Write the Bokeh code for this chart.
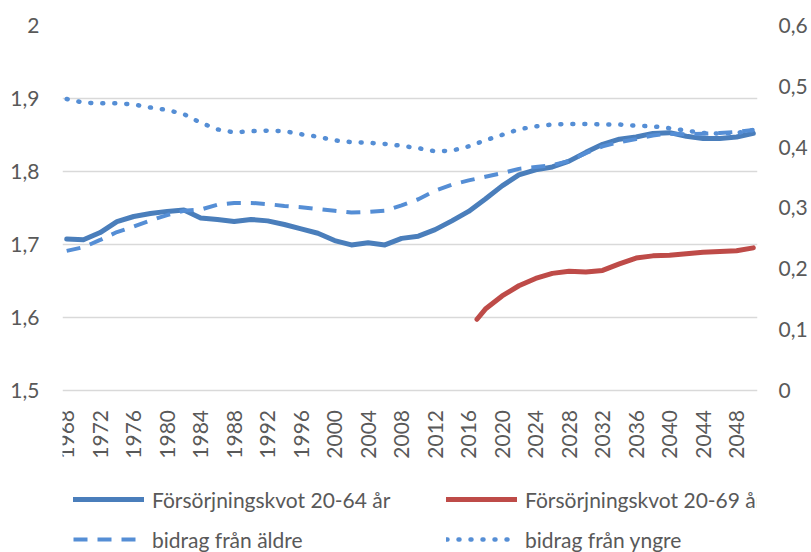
import math
from bokeh.plotting import figure
from bokeh.models import (Range1d, LinearAxis, FixedTicker, Legend, LegendItem,
                          CustomJSTickFormatter)
from bokeh.embed import file_html
from bokeh.resources import INLINE

# ---- data ----
years = list(range(1968, 2051, 2))
kvot_20_64 = [1.707, 1.706, 1.716, 1.731, 1.738, 1.742, 1.745, 1.747, 1.736, 1.734,
              1.731, 1.734, 1.732, 1.727, 1.721, 1.715, 1.705, 1.699, 1.702, 1.699,
              1.708, 1.711, 1.720, 1.732, 1.745, 1.762, 1.780, 1.795, 1.802, 1.806,
              1.814, 1.826, 1.837, 1.844, 1.847, 1.852, 1.853, 1.848, 1.845, 1.845,
              1.847, 1.852]
bidrag_aldre = [0.229, 0.235, 0.247, 0.260, 0.269, 0.279, 0.288, 0.295, 0.297, 0.305,
                0.308, 0.308, 0.306, 0.303, 0.301, 0.298, 0.295, 0.292, 0.293, 0.295,
                0.304, 0.314, 0.328, 0.338, 0.345, 0.351, 0.357, 0.364, 0.367, 0.370,
                0.377, 0.390, 0.401, 0.408, 0.413, 0.419, 0.422, 0.421, 0.422, 0.423,
                0.425, 0.428]
bidrag_yngre = [0.479, 0.473, 0.472, 0.472, 0.470, 0.465, 0.461, 0.454, 0.440, 0.429,
                0.424, 0.426, 0.427, 0.426, 0.421, 0.417, 0.411, 0.408, 0.407, 0.405,
                0.402, 0.398, 0.393, 0.394, 0.401, 0.411, 0.420, 0.429, 0.434, 0.437,
                0.438, 0.438, 0.437, 0.437, 0.435, 0.434, 0.431, 0.427, 0.423, 0.422,
                0.423, 0.428]
years_69 = [2017] + list(range(2018, 2051, 2))
kvot_20_69 = [1.597, 1.611, 1.629, 1.643, 1.653, 1.660, 1.663, 1.662, 1.664, 1.673,
              1.681, 1.684, 1.685, 1.687, 1.689, 1.690, 1.691, 1.695]
x_ticks = list(range(1968, 2049, 4))
left_ticks = [1.5, 1.6, 1.7, 1.8, 1.9, 2.0]
right_ticks = [0.0, 0.1, 0.2, 0.3, 0.4, 0.5, 0.6]
labels = ["Försörjningskvot 20-64 år", "Försörjningskvot 20-69 år",
          "bidrag från äldre", "bidrag från yngre"]

FONT = "Lato"
TXT = "#595959"
FS = "21px"

# The frame reaches the bottom of the page so the legend can sit inside it;
# the extra room below 1,5 / 0 is left for the year labels and the legend.
left_lo = 1.5 - 162.5 / 729.0
right_lo = -162.5 / 607.5

p = figure(width=811, height=552, output_backend="svg", toolbar_location=None,
           x_range=Range1d(1967.5, 2050.5), y_range=Range1d(left_lo, 2.0),
           min_border_left=62, min_border_right=54, min_border_top=25,
           min_border_bottom=0, y_axis_location=None, x_axis_location=None)
p.extra_y_ranges = {"right": Range1d(right_lo, 0.6)}
p.outline_line_color = None
p.background_fill_color = "white"
p.border_fill_color = "white"

fmt = CustomJSTickFormatter(code="var s = (Math.round(tick*10)/10).toString(); return s.replace('.', ',');")

def style_axis(ax):
    ax.axis_line_color = None
    ax.major_tick_line_color = None
    ax.minor_tick_line_color = None
    ax.major_tick_out = 0
    ax.major_tick_in = 0
    ax.minor_tick_out = 0
    ax.minor_tick_in = 0
    ax.major_label_text_font = FONT
    ax.major_label_text_font_size = FS
    ax.major_label_text_color = TXT

yl = LinearAxis(ticker=FixedTicker(ticks=left_ticks), formatter=fmt)
style_axis(yl)
yl.major_label_standoff = 23
p.add_layout(yl, "left")

yr = LinearAxis(y_range_name="right", ticker=FixedTicker(ticks=right_ticks), formatter=fmt)
style_axis(yr)
yr.major_label_standoff = 21
p.add_layout(yr, "right")

xa = LinearAxis(ticker=FixedTicker(ticks=x_ticks), fixed_location=1.5)
style_axis(xa)
xa.major_label_orientation = math.pi / 2
xa.major_label_standoff = 20
p.add_layout(xa, "below")

p.xgrid.visible = False
p.ygrid.ticker = FixedTicker(ticks=left_ticks)
p.ygrid.grid_line_color = "#d9d9d9"
p.ygrid.grid_line_width = 1.3

r1 = p.line(years, kvot_20_64, line_color="#4A7EBB", line_width=5,
            line_join="round", line_cap="round")
r2 = p.line(years_69, kvot_20_69, line_color="#BE4B48", line_width=5,
            line_join="round", line_cap="round")
r3 = p.line(years, bidrag_aldre, y_range_name="right", line_color="#558ED5",
            line_width=4, line_dash="14 10", line_join="round")
r4 = p.line(years, bidrag_yngre, y_range_name="right", line_color="#558ED5",
            line_width=4.5, line_dash="1 11", line_cap="round")

legend = Legend(items=[LegendItem(label=labels[0], renderers=[r1]),
                       LegendItem(label=labels[1], renderers=[r2]),
                       LegendItem(label=labels[2], renderers=[r3]),
                       LegendItem(label=labels[3], renderers=[r4])],
                orientation="horizontal", nrows=2, location=(11, 0),
                glyph_width=71, glyph_height=26, label_height=26, label_width=280,
                label_standoff=8, spacing=14, padding=0, margin=0,
                border_line_color=None, background_fill_alpha=0,
                label_text_font=FONT, label_text_font_size=FS,
                label_text_color=TXT)
p.add_layout(legend, "center")

open("out.html", "w").write(file_html(p, INLINE))
